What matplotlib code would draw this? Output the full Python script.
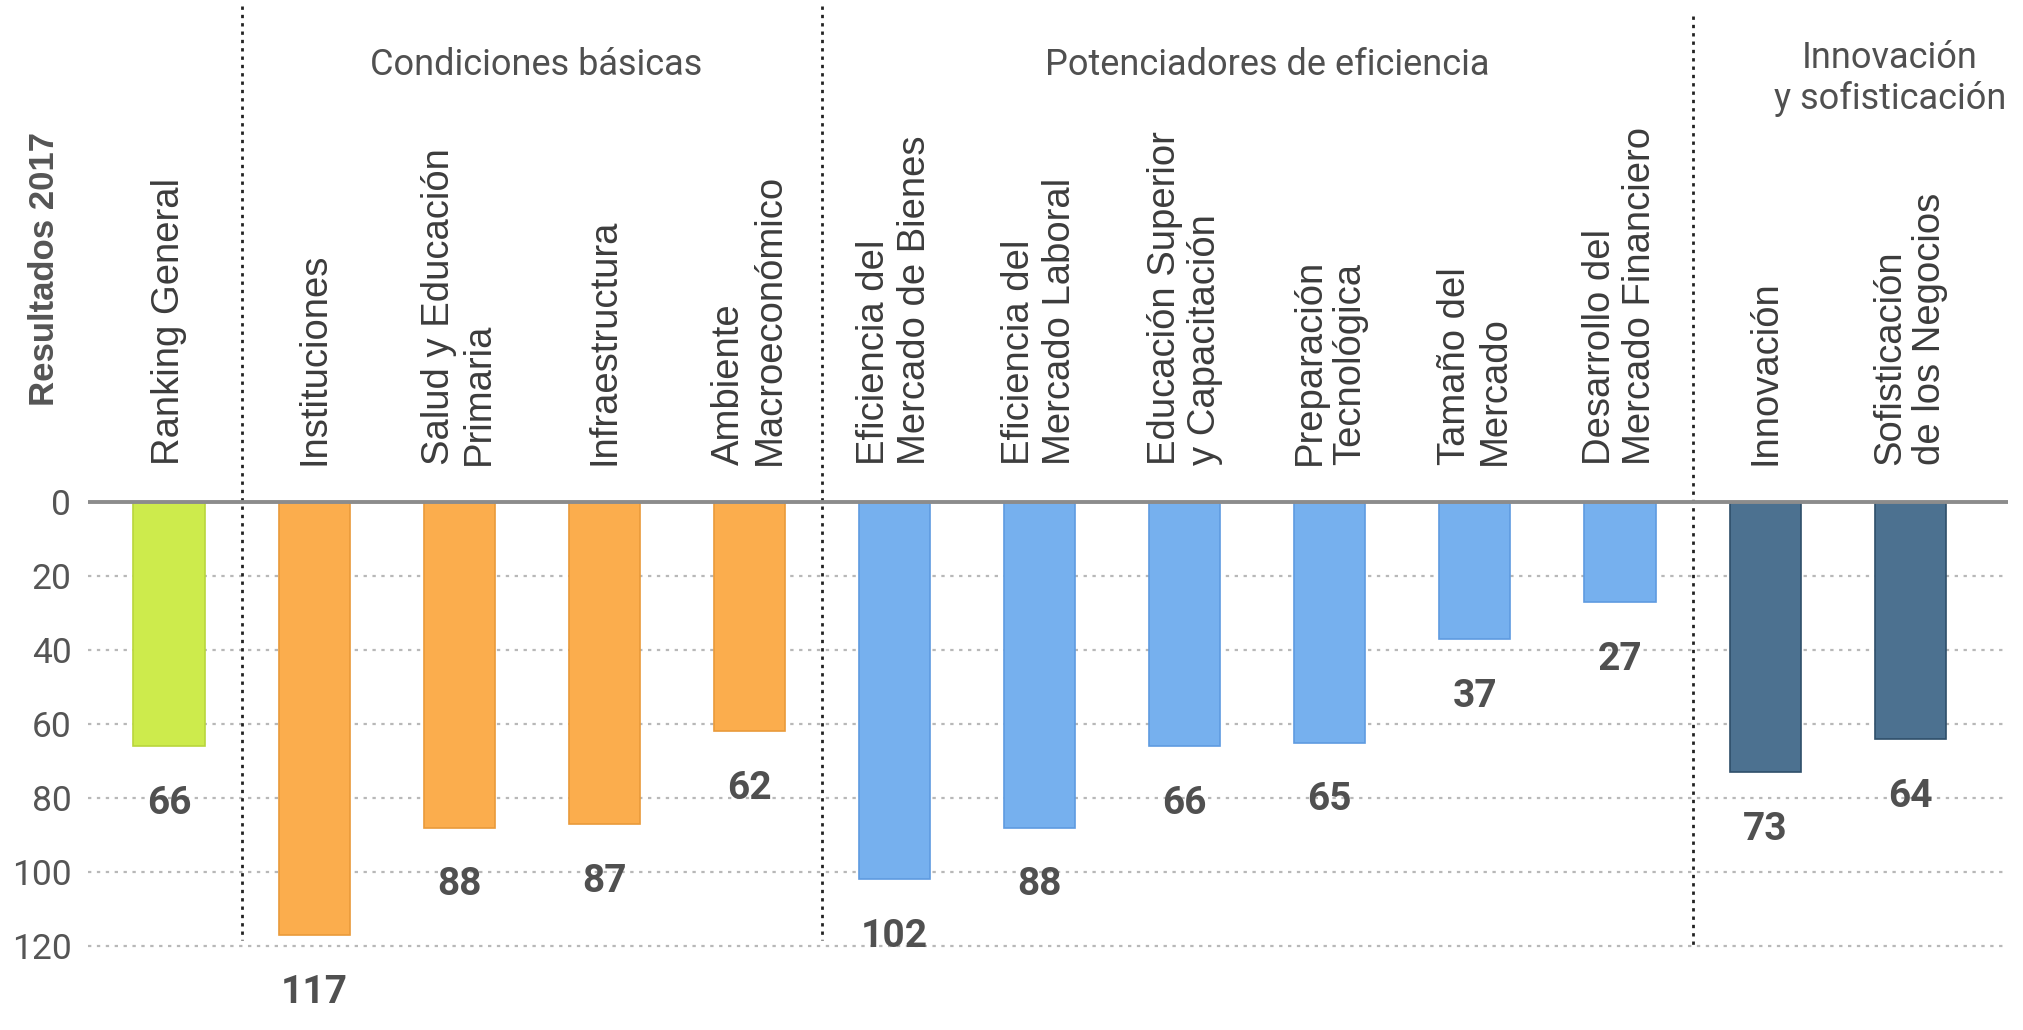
import matplotlib
matplotlib.use("Agg")
import matplotlib.pyplot as plt

# data (ranking positions, 2017)
categories = [
    "Ranking General",
    "Instituciones",
    "Salud y Educación\nPrimaria",
    "Infraestructura",
    "Ambiente\nMacroeconómico",
    "Eficiencia del\nMercado de Bienes",
    "Eficiencia del\nMercado Laboral",
    "Educación Superior\ny Capacitación",
    "Preparación\nTecnológica",
    "Tamaño del\nMercado",
    "Desarrollo del\nMercado Financiero",
    "Innovación",
    "Sofisticación\nde los Negocios",
]
values = [66, 117, 88, 87, 62, 102, 88, 66, 65, 37, 27, 73, 64]
groups = [0, 1, 1, 1, 1, 2, 2, 2, 2, 2, 2, 3, 3]
group_titles = ["Condiciones básicas", "Potenciadores de eficiencia",
                "Innovación\ny sofisticación"]
yticks = [0, 20, 40, 60, 80, 100, 120]

colors = ["#CDEB4C", "#FBAD4D", "#76B0EE", "#4C7190"]
edges = ["#b9d63c", "#e99a3a", "#5f9be0", "#2f4f6a"]
text_col = "#505050"

fig = plt.figure(figsize=(20.24, 10.30), dpi=100)
ax = fig.add_axes([88 / 2024, 0, (2008 - 88) / 2024, 1])

x = list(range(len(categories)))
ax.bar(x, values, width=0.49,
       color=[colors[g] for g in groups],
       edgecolor=[edges[g] for g in groups], linewidth=1.2, zorder=3)

ax.set_xlim(-0.558, 12.674)
ax.set_ylim(142.7, -135.7)

# grid lines
for t in yticks[1:]:
    ax.axhline(t, color="#b8b8b8", linestyle=(0, (1.5, 2.5)), linewidth=1.6, zorder=1)
ax.axhline(0, color="#8c8c8c", linewidth=2.8, zorder=4)

ax.set_yticks(yticks)
ax.set_yticklabels([str(t) for t in yticks], fontsize=25.5, color="#555555",
                   family="Roboto")
ax.tick_params(axis="y", length=0, pad=12)
ax.set_xticks([])
for s in ax.spines.values():
    s.set_visible(False)

# value labels under the bars
for xi, v in zip(x, values):
    ax.text(xi, v + 15.5, str(v), ha="center", va="center", fontsize=28,
            fontweight="bold", color=text_col, family="Roboto")

# category labels, rotated
for xi, c in zip(x, categories):
    ax.text(xi, -10, c, rotation=90, ha="center", va="bottom",
            multialignment="left", fontsize=27.5, color="#3c3c3c",
            family="Liberation Sans", linespacing=1.15)

# group separators
ax.plot([0.5, 0.5], [-134, 118.5], color="#222222", linestyle=(0, (1.2, 1.8)),
        linewidth=2, zorder=2)
ax.plot([4.5, 4.5], [-134, 118.5], color="#222222", linestyle=(0, (1.2, 1.8)),
        linewidth=2, zorder=2)
ax.plot([10.5, 10.5], [-131.5, 120], color="#222222", linestyle=(0, (1.2, 1.8)),
        linewidth=2, zorder=2)

# group titles
ax.text(2.53, -118, group_titles[0], ha="center", va="center", fontsize=26,
        color=text_col, family="Roboto")
ax.text(7.57, -118, group_titles[1], ha="center", va="center", fontsize=26,
        color=text_col, family="Roboto")
ax.text(11.86, -114.5, group_titles[2], ha="center", va="center", fontsize=26,
        color=text_col, family="Roboto", linespacing=1.2)

ax.text(-0.855, -63, "Resultados 2017", rotation=90, ha="center", va="center",
        fontsize=25, fontweight="bold", color="#555555", family="Liberation Sans")

fig.savefig("out.png", dpi=100)
